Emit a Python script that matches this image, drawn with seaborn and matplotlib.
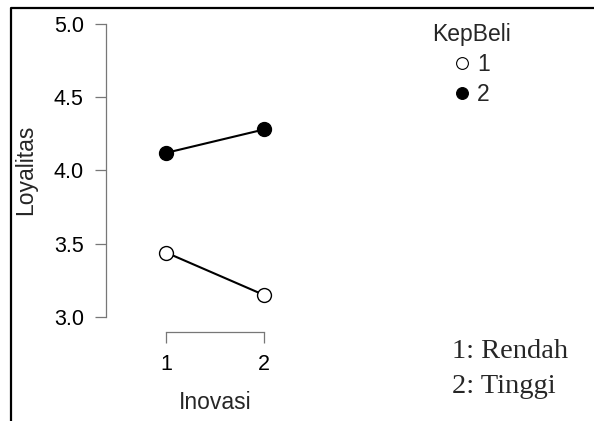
import matplotlib
matplotlib.use('Agg')
import matplotlib.pyplot as plt
from matplotlib.lines import Line2D
import pandas as pd
import seaborn as sns

# Descriptives: mean Loyalitas per Inovasi level, split by KepBeli
inovasi = [1, 2]
kepbeli_1 = [3.44, 3.15]
kepbeli_2 = [4.12, 4.28]
y_ticks = [3.0, 3.5, 4.0, 4.5, 5.0]
x_ticks = [1, 2]

df = pd.DataFrame({
    'Inovasi': inovasi * 2,
    'Loyalitas': kepbeli_1 + kepbeli_2,
    'KepBeli': ['1'] * 2 + ['2'] * 2,
})

sns.set_style('white')
plt.rcParams['font.family'] = ['Liberation Sans', 'DejaVu Sans']

fig = plt.figure(figsize=(5.94, 4.21), dpi=100)
ax = fig.add_axes([106 / 594, 1 - 332 / 421, 194 / 594, 308 / 421])

faces = {'1': 'white', '2': 'black'}
for level, sub in df.groupby('KepBeli'):
    sns.lineplot(data=sub, x='Inovasi', y='Loyalitas', ax=ax, color='black',
                 linewidth=1.5, marker='o', markersize=10, markeredgewidth=1.0,
                 markerfacecolor=faces[level], markeredgecolor='black',
                 clip_on=False, zorder=3)

ax.set_xlim(1 - 60 / 98, 2 + 36 / 98)
ax.set_ylim(3.0 - 15 / 146, 5.0)
ax.set_xticks(x_ticks)
ax.set_yticks(y_ticks)
ax.set_yticklabels([f"{t:.1f}" for t in y_ticks])

# JASP-style range frame
for side in ['top', 'right']:
    ax.spines[side].set_visible(False)
ax.spines['left'].set_bounds(3.0, 5.0)
ax.spines['bottom'].set_bounds(1, 2)
for side in ['left', 'bottom']:
    ax.spines[side].set_color('#777777')
    ax.spines[side].set_linewidth(0.9)
ax.tick_params(axis='both', which='major', length=8, width=0.9, color='#777777',
               labelsize=15.5, labelcolor='black', left=True, bottom=True)
ax.tick_params(axis='y', pad=8)
ax.tick_params(axis='x', pad=8)

ax.set_xlabel('Inovasi', fontsize=16.5)
ax.set_ylabel('Loyalitas', fontsize=16.5)
ax.xaxis.set_label_coords(0.562, -0.19)
ax.yaxis.set_label_coords(-0.355, 0.525)

handles = [Line2D([], [], linestyle='none', marker='o', markersize=8.5,
                  markerfacecolor=faces[k], markeredgecolor='black', markeredgewidth=0.8)
           for k in ['1', '2']]
leg = ax.legend(handles, ['1', '2'], title='KepBeli', loc='upper left',
                bbox_to_anchor=(423 / 594, 1 - 14 / 421), bbox_transform=fig.transFigure,
                frameon=False, fontsize=16.5, title_fontsize=16.5, handlelength=0.8,
                handletextpad=0.26, labelspacing=0.3, borderaxespad=0)

serif = ['Liberation Serif', 'DejaVu Serif']
fig.text(452 / 594, 1 - 358 / 421, '1: Rendah', fontsize=20.5, family=serif,
         ha='left', va='baseline')
fig.text(452 / 594, 1 - 393 / 421, '2: Tinggi', fontsize=20.5, family=serif,
         ha='left', va='baseline')

# outer frame of the exported picture
fig.add_artist(Line2D([11 / 594, 11 / 594, 1.0], [0.0, 1 - 8 / 421, 1 - 8 / 421],
                      transform=fig.transFigure, color='black', linewidth=1.6))

fig.savefig('out.png', dpi=100)
